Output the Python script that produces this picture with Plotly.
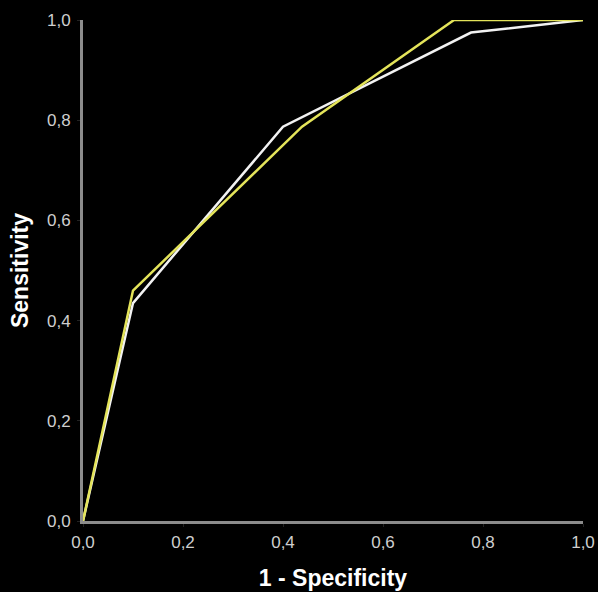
import plotly.graph_objects as go

# ROC curve data (1 - specificity, sensitivity)
fpr_a = [0.0, 0.10, 0.40, 0.776, 1.0]
tpr_a = [0.0, 0.435, 0.787, 0.975, 1.0]
fpr_b = [0.0, 0.10, 0.438, 0.742, 1.0]
tpr_b = [0.0, 0.46, 0.787, 1.0, 1.0]
tick_vals = [0.0, 0.2, 0.4, 0.6, 0.8, 1.0]
tick_text = ["0,0", "0,2", "0,4", "0,6", "0,8", "1,0"]

fig = go.Figure()
fig.add_trace(go.Scatter(x=fpr_a, y=tpr_a, mode="lines",
                         line=dict(color="#f2f2f2", width=2.5), showlegend=False))
fig.add_trace(go.Scatter(x=fpr_b, y=tpr_b, mode="lines",
                         line=dict(color="#e4e45a", width=2.5), showlegend=False))

axis_common = dict(
    range=[0, 1], tickvals=tick_vals, ticktext=tick_text,
    showgrid=False, zeroline=False, automargin=False,
    showline=True, linecolor="#8c8c8c", linewidth=3,
    ticks="outside", ticklen=3, tickwidth=1, tickcolor="#222222",
    tickfont=dict(family="Liberation Sans, Arial, sans-serif", size=17, color="#cfcfcf"),
    title_font=dict(family="Liberation Sans, Arial, sans-serif", size=23, color="#ffffff"),
)

fig.update_xaxes(**axis_common, title_text="<b>1 - Specificity</b>", title_standoff=19,
                 ticklabelstandoff=1)
fig.update_yaxes(**axis_common, title_text="<b>Sensitivity</b>", title_standoff=12,
                 ticklabelstandoff=3)

fig.update_layout(
    width=598, height=592,
    margin=dict(l=83, r=15, t=20, b=71),
    paper_bgcolor="#000000", plot_bgcolor="#000000",
)

fig.write_html("out.html")
